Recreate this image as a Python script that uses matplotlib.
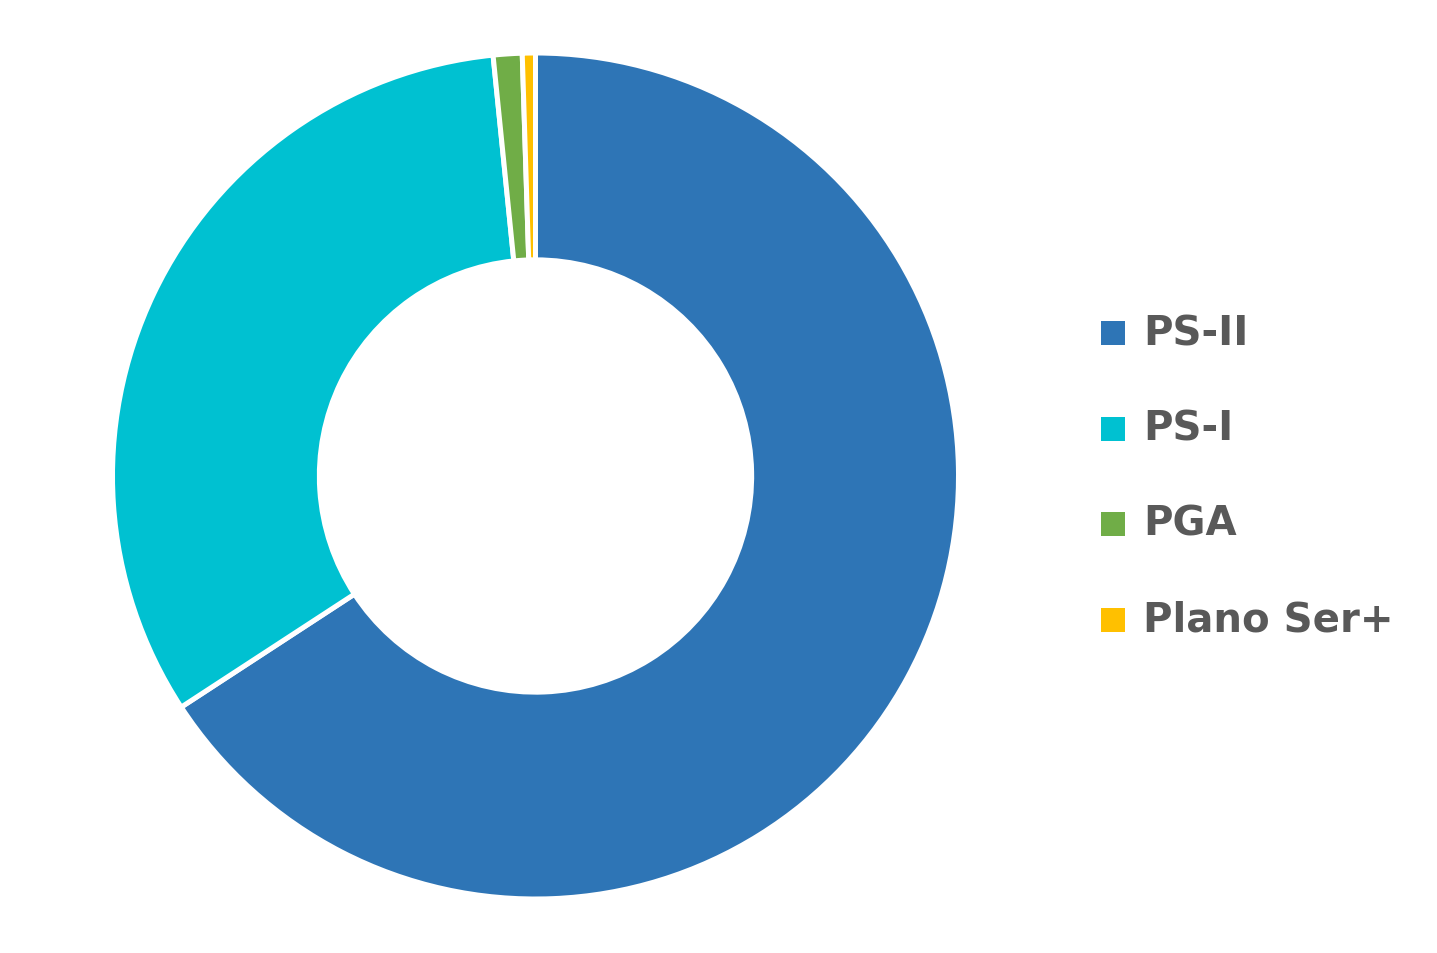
import matplotlib
matplotlib.use("Agg")
import matplotlib.pyplot as plt
from matplotlib.patches import Rectangle

labels = ["PS-II", "PS-I", "PGA", "Plano Ser+"]
values = [65.8, 32.6, 1.1, 0.5]
colors = ["#2E75B6", "#00C1D1", "#70AD47", "#FFC000"]

W, H = 1437, 954
fig = plt.figure(figsize=(W / 100, H / 100), dpi=100)
fig.patch.set_facecolor("white")

cx, cy, R = 535.5, 477, 423
ax = fig.add_axes([(cx - R) / W, (H - cy - R) / H, 2 * R / W, 2 * R / H])
ax.pie(values, colors=colors, startangle=90, counterclock=False, radius=1,
       wedgeprops=dict(width=0.489, edgecolor="white", linewidth=3.6))
ax.set_xlim(-1, 1)
ax.set_ylim(-1, 1)
ax.set_aspect("equal")
ax.axis("off")

# legend
ys = [334, 430, 525, 621]
for lab, col, y in zip(labels, colors, ys):
    fig.patches.append(Rectangle(((1101) / W, (H - y - 12) / H), 24 / W, 24 / H,
                                 transform=fig.transFigure, facecolor=col,
                                 edgecolor="none"))
    fig.text(1143 / W, (H - y) / H, lab, fontsize=29, fontweight="bold",
             family="DejaVu Sans", color="#595959", va="center", ha="left")

fig.savefig("out.png", dpi=100, facecolor="white")
